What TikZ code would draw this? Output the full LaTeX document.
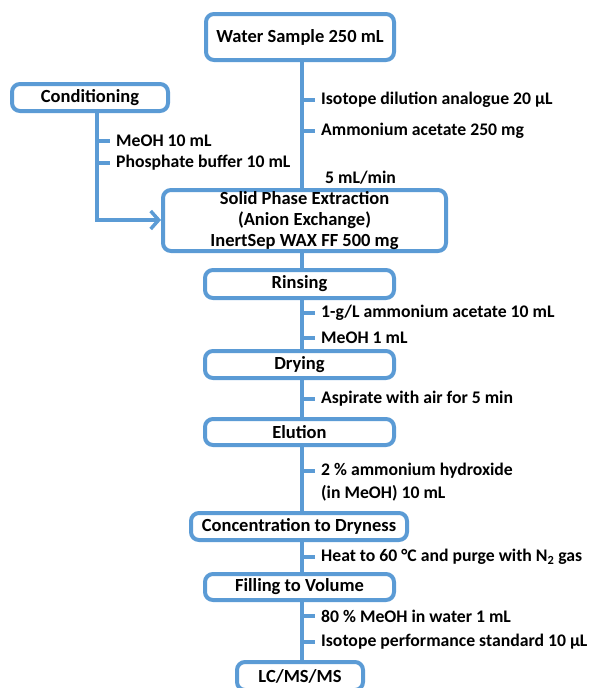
\documentclass[tikz,border=0pt]{standalone}
\usepackage{fontspec}
\setmainfont{Carlito}
\usetikzlibrary{arrows.meta}
\definecolor{flowblue}{RGB}{91,155,213}
\begin{document}
\begin{tikzpicture}[x=1pt,y=-1pt,
  every node/.style={font=\bfseries\fontsize{18.5}{21}\selectfont, text=black},
  stepbox/.style={draw=flowblue, line width=4pt, rounded corners=8pt, fill=white, inner sep=0pt, align=center},
  link/.style={draw=flowblue, line width=4pt},
  lab/.style={anchor=west, inner xsep=5pt, inner ysep=0pt, font=\bfseries\fontsize{17.7}{21}\selectfont}]
\useasboundingbox (0,0) rectangle (592,688);
\clip (0,0) rectangle (592,688);
\coordinate (trunk) at (302,0);
\coordinate (side) at (97,0);
% boxes
\node[stepbox, minimum width=188pt, minimum height=46pt] (water) at (300,37) {Water Sample 250 mL};
\node[stepbox, minimum width=156pt, minimum height=27pt] (cond) at (90,97.5) {Conditioning};
\node[stepbox, minimum width=283pt, minimum height=61pt] (spe) at (304.5,220.5) {Solid Phase Extraction\\(Anion Exchange)\\InertSep WAX FF 500 mg};
\node[stepbox, minimum width=189pt, minimum height=28pt] (rins) at (299.5,284) {Rinsing};
\node[stepbox, minimum width=189pt, minimum height=27pt] (dry) at (299.5,364.5) {Drying};
\node[stepbox, minimum width=189pt, minimum height=26pt] (elu) at (299.5,432) {Elution};
\node[stepbox, minimum width=216pt, minimum height=27pt] (conc) at (299,526.5) {Concentration to Dryness};
\node[stepbox, minimum width=189pt, minimum height=26pt] (fill) at (299.5,587) {Filling to Volume};
\node[stepbox, minimum width=126pt, minimum height=28pt] (lc) at (300,676) {LC/MS/MS};
% trunk segments
\draw[link] (water.south -| trunk) -- (spe.north -| trunk);
\draw[link] (spe.south -| trunk) -- (rins.north -| trunk);
\draw[link] (rins.south -| trunk) -- (dry.north -| trunk);
\draw[link] (dry.south -| trunk) -- (elu.north -| trunk);
\draw[link] (elu.south -| trunk) -- (conc.north -| trunk);
\draw[link] (conc.south -| trunk) -- (fill.north -| trunk);
\draw[link] (fill.south -| trunk) -- (lc.north -| trunk);
% conditioning branch
\coordinate (bend) at (97,220);
\draw[link, -{Straight Barb[length=8pt,width=18pt,line width=3.5pt]}] (cond.south -| side) -- (bend) -- (spe.west |- bend);
% labels
\node[lab] (l1) at (316,100) {Isotope dilution analogue 20 µL};
\node[lab] (l2) at (316,131) {Ammonium acetate 250 mg};
\node[lab] (l3) at (111,141) {MeOH 10 mL};
\node[lab] (l4) at (111,163) {Phosphate buffer 10 mL};
\node[lab] (l5) at (320,178) {5 mL/min};
\node[lab] (l6) at (316,313) {1-g/L ammonium acetate 10 mL};
\node[lab] (l7) at (316,338) {MeOH 1 mL};
\node[lab] (l8) at (316,399) {Aspirate with air for 5 min};
\node[lab] (l9) at (316,471) {2 \% ammonium hydroxide};
\node[lab] (l9b) at (316,493) {(in MeOH) 10 mL};
\node[lab] (l10) at (316,557) {Heat to 60 °C and purge with N\textsubscript{2} gas};
\node[lab] (l11) at (316,616) {80 \% MeOH in water 1 mL};
\node[lab] (l12) at (316,642) {Isotope performance standard 10 µL};
% ticks
\foreach \l in {l1,l2,l6,l7,l8,l9,l10,l11,l12}
  \draw[link] (\l.west -| trunk) -- ++(13,0);
\foreach \l in {l3,l4}
  \draw[link] (\l.west -| side) -- ++(13,0);
\end{tikzpicture}
\end{document}
